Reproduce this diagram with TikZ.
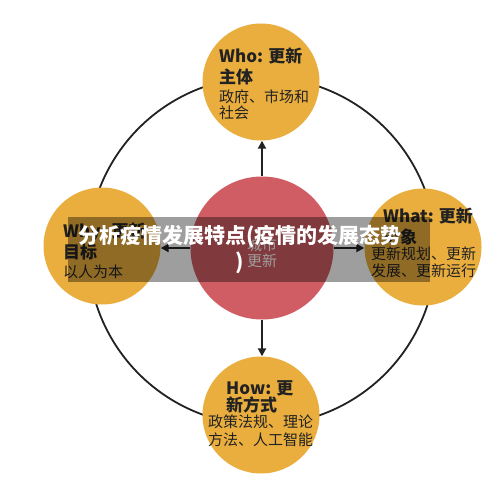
\documentclass[tikz,border=0pt]{standalone}
\usepackage{fontspec}
\setmainfont{Noto Sans CJK SC}
\usetikzlibrary{arrows.meta}
\definecolor{orng}{HTML}{E9AE3E}
\definecolor{redc}{HTML}{CF5D63}
\definecolor{ink}{HTML}{222222}
\begin{document}
\begin{tikzpicture}[x=1pt,y=-1pt,
 outer/.style={circle,fill=orng,minimum size=117pt,inner sep=0pt},
 hub/.style={circle,fill=redc,minimum size=143pt,inner sep=0pt},
 link/.style={draw=ink,line width=2.5pt,-{Triangle[length=8pt,width=8pt]}},
 ttl/.style={anchor=west,font=\fontsize{17}{20}\selectfont\bfseries,text=ink,inner sep=0pt},
 bdy/.style={anchor=west,font=\fontsize{15}{17}\selectfont,text=ink,inner sep=0pt},
 hubtxt/.style={font=\fontsize{15}{17}\selectfont,text=white,inner sep=0pt}]
\useasboundingbox (0,0) rectangle (500,500);
\fill[white] (0,0) rectangle (500,500);
\draw[ink, line width=1.8pt] (262,251) circle[radius=174];
\node[outer] (who) at (261,82) {};
\node[outer] (why) at (102,246) {};
\node[outer] (what) at (423,247) {};
\node[outer] (how) at (261,415) {};
\node[hub] (hub) at (262,248) {};
\draw[link] (hub.north) -- (hub.north |- who.south);
\draw[link] (hub.south) -- (hub.south |- how.north);
\draw[link] (hub.west) -- (hub.west -| why.east);
\draw[link] (hub.east) -- (hub.east -| what.west);
\node[hubtxt] (hubA) at (262,245) {城市};
\node[hubtxt] (hubB) at (262,261) {更新};
\node[ttl] (whoA) at (219,56) {Who: 更新};
\node[ttl] (whoB) at (219,77) {主体};
\node[bdy] (whoC) at (219,97) {政府、市场和};
\node[bdy] (whoD) at (219,113) {社会};
\node[ttl] (whyA) at (63,232) {Why: 更新};
\node[ttl] (whyB) at (63,252) {目标};
\node[bdy] (whyC) at (63,272) {以人为本};
\node[ttl] (whatA) at (383,216) {What: 更新};
\node[ttl] (whatB) at (383,237) {对象};
\node[bdy] (whatC) at (371,254) {更新规划、更新};
\node[bdy] (whatD) at (371,271) {发展、更新运行};
\node[ttl] (howA) at (226,388) {How: 更};
\node[ttl] (howB) at (226,405) {新方式};
\node[bdy] (howC) at (208,422) {政策法规、理论};
\node[bdy] (howD) at (208,440) {方法、人工智能};
\fill[black,opacity=0.38] (68,217) rectangle (430,282);
\node[font=\fontsize{21}{26}\selectfont\bfseries,text=white,align=center,inner sep=0pt] (cap) at (240,250) {分析疫情发展特点(疫情的发展态势\\)};
\end{tikzpicture}
\end{document}
